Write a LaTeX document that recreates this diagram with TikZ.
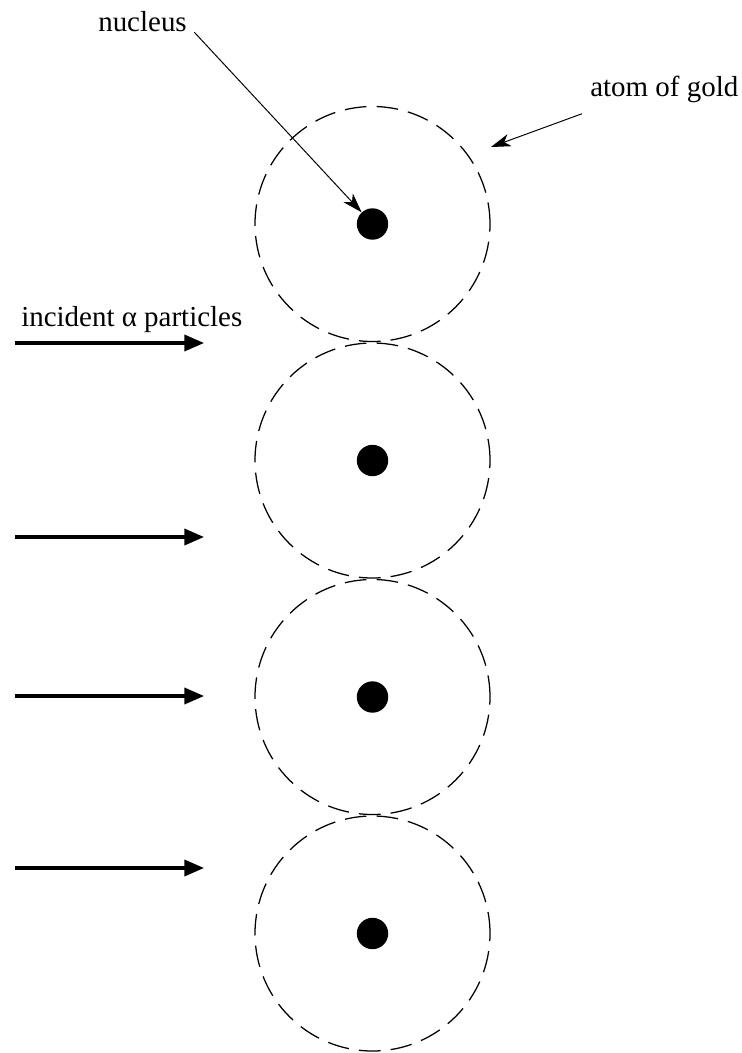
\documentclass[tikz,border=0pt]{standalone}
\usepackage{fontspec}
\setmainfont{Liberation Serif}
\usepackage{tikz}
\usetikzlibrary{arrows.meta, positioning, shapes.geometric}

\begin{document}
\begin{tikzpicture}[
    atom/.style={circle, draw, line width=0.9pt, dash pattern=on 15.4pt off 7.2pt, minimum size=5.875cm, inner sep=0pt},
    nucleus/.style={circle, fill=black, minimum size=0.785cm, inner sep=0pt},
    label/.style={inner sep=0pt, anchor=base west, font=\fontsize{20.6}{24}\selectfont},
    beam/.style={-{Triangle[length=14pt, width=11.5pt]}, line width=2.3pt},
    pointer/.style={-{Stealth[length=14pt, width=9pt, inset=4pt]}, line width=0.7pt}
]
\useasboundingbox (0, 0) rectangle (18.525, -26.325);

% Atoms
\node[atom] (atom1) at (9.3125, -5.6) {};
\node[atom] (atom2) at (9.3125, -11.5125) {};
\node[atom] (atom3) at (9.3125, -17.425) {};
\node[atom] (atom4) at (9.3125, -23.3375) {};

% Nuclei
\node[nucleus] (nuc1) at (atom1) {};
\node[nucleus] (nuc2) at (atom2) {};
\node[nucleus] (nuc3) at (atom3) {};
\node[nucleus] (nuc4) at (atom4) {};

% Labels
\node[label] (nuclabel) at (2.45, -0.79) {nucleus};
\node[label] (atomlabel) at (14.75, -2.42) {atom of gold};
\node[label] (beamlabel) at (0.525, -8.15) {incident α particles};

% Pointers
\coordinate (atomtip) at (12.275, -3.675);
\draw[pointer] ([xshift=0.18cm]nuclabel.south east) -- (nuc1);
\draw[pointer] ([xshift=-0.2cm, yshift=-0.26cm]atomlabel.south west) -- (atomtip);

% Incident particles
\coordinate (in1) at (0.375, -8.575);
\coordinate (out1) at (5.1, -8.575);
\coordinate (in2) at (0.375, -13.425);
\coordinate (out2) at (5.1, -13.425);
\coordinate (in3) at (0.375, -17.4);
\coordinate (out3) at (5.1, -17.4);
\coordinate (in4) at (0.375, -21.7);
\coordinate (out4) at (5.1, -21.7);
\draw[beam] (in1) -- (out1);
\draw[beam] (in2) -- (out2);
\draw[beam] (in3) -- (out3);
\draw[beam] (in4) -- (out4);

\end{tikzpicture}
\end{document}
